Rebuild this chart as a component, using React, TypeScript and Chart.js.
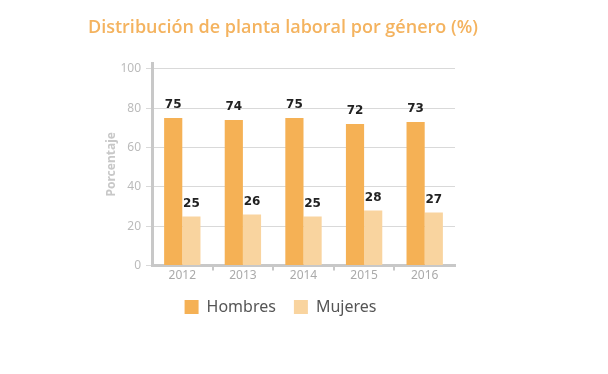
import React, { useEffect, useRef } from "react";
import { Chart, registerables } from "chart.js";

Chart.register(...registerables);

const categories = ["2012", "2013", "2014", "2015", "2016"];
const hombres = [75, 74, 75, 72, 73];
const mujeres = [25, 26, 25, 28, 27];
const seriesNames = ["Hombres", "Mujeres"];
const yTicks = [0, 20, 40, 60, 80, 100];
const titleText = "Distribución de planta laboral por género (%)";
const yAxisTitle = "Porcentaje";

const COLOR_H = "#F5B155";
const COLOR_M = "#F9D49F";

const valueLabels = {
  id: "valueLabels",
  afterDatasetsDraw(chart: any) {
    const ctx = chart.ctx;
    ctx.save();
    ctx.font = "bold 12px 'DejaVu Sans', sans-serif";
    ctx.fillStyle = "#222222";
    ctx.textAlign = "center";
    ctx.textBaseline = "middle";
    chart.data.datasets.forEach((ds: any, i: number) => {
      const meta = chart.getDatasetMeta(i);
      meta.data.forEach((el: any, j: number) => {
        ctx.fillText(String(ds.data[j]), el.x, el.y - 13);
      });
    });
    ctx.restore();
  },
};

const titleDraw = {
  id: "titleDraw",
  afterDraw(chart: any) {
    const ctx = chart.ctx;
    ctx.save();
    ctx.font = "600 18px 'Open Sans', sans-serif";
    ctx.fillStyle = "#F4B35F";
    ctx.textAlign = "left";
    ctx.textBaseline = "middle";
    ctx.fillText(titleText, 88, 28);
    ctx.restore();
  },
};

const shiftLegend = {
  id: "shiftLegend",
  afterLayout(chart: any) {
    const lg = chart.legend;
    if (lg) {
      lg.left += 9;
      lg.right += 9;
    }
  },
};

export default function App() {
  const ref = useRef<HTMLCanvasElement>(null);
  useEffect(() => {
    if (!ref.current) return;
    const chart = new Chart(ref.current, {
      type: "bar",
      data: {
        labels: categories,
        datasets: [
          { label: seriesNames[0], data: hombres, backgroundColor: COLOR_H, categoryPercentage: 0.6, barPercentage: 1.0 },
          { label: seriesNames[1], data: mujeres, backgroundColor: COLOR_M, categoryPercentage: 0.6, barPercentage: 1.0 },
        ],
      },
      options: {
        responsive: false,
        animation: false,
        layout: { padding: { left: 88, right: 153, top: 63, bottom: 49 } },
        plugins: {
          title: { display: false },
          legend: {
            position: "bottom",
            labels: {
              boxWidth: 14,
              boxHeight: 14,
              color: "#555555",
              padding: 18,
              font: { family: "'Noto Sans', sans-serif", size: 16 },
            },
          },
          tooltip: { enabled: false },
        },
        scales: {
          x: {
            grid: {
              drawOnChartArea: false,
              tickLength: 5,
              lineWidth: 2,
              color: (c: any) => (c.type !== "tick" || c.index === 0 ? "rgba(0,0,0,0)" : "#C8C8C8"),
            },
            border: { display: true, color: "#C8C8C8", width: 3 },
            ticks: { color: "#AAAAAA", padding: -2, font: { family: "'Noto Sans', sans-serif", size: 12 } },
          },
          y: {
            min: 0,
            max: 103,
            afterBuildTicks: (scale: any) => {
              scale.ticks = yTicks.map((v) => ({ value: v }));
            },
            afterFit: (scale: any) => {
              scale.width = 64;
            },
            ticks: { stepSize: 20, color: "#BBBBBB", padding: 5, font: { family: "'Noto Sans', sans-serif", size: 12 } },
            grid: { color: "#D9D9D9", lineWidth: 1, tickLength: 6 },
            border: { display: true, color: "#C8C8C8", width: 3 },
            title: {
              display: true,
              text: yAxisTitle,
              color: "#C8C8C8",
              font: { family: "'Noto Sans', sans-serif", size: 12, weight: "bold" },
              padding: { top: 16, bottom: 0 },
            },
          },
        },
      },
      plugins: [valueLabels, titleDraw, shiftLegend],
    });
    return () => chart.destroy();
  }, []);
  return (
    <div style={{ position: "fixed", left: 0, top: 0, width: 608, height: 374, background: "#fff" }}>
      <canvas ref={ref} width={608} height={374} />
    </div>
  );
}
